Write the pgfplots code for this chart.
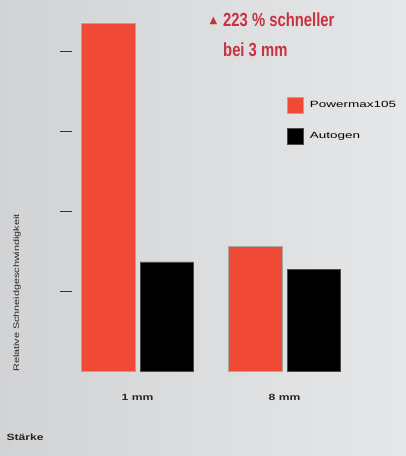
\documentclass[border=0pt]{standalone}
\usepackage{fontspec}
\usepackage{pgfplots}
\pgfplotsset{compat=1.18}
\setmainfont{Liberation Sans}
\newfontfamily\wide[FakeStretch=1.35]{Liberation Sans}
\newfontfamily\wider[FakeStretch=1.5]{Liberation Sans}
\newfontfamily\cond[FakeStretch=0.78]{Liberation Sans}
\newfontfamily\sym{DejaVu Sans}
\definecolor{barred}{HTML}{F04A36}
\definecolor{annot}{HTML}{C8323F}
\definecolor{bgl}{HTML}{D2D3D5}
\definecolor{bgr}{HTML}{E6E7E8}
\begin{document}
\begin{tikzpicture}[x=1pt,y=1pt]
\shade[left color=bgl,right color=bgr] (0,0) rectangle (406,456);
\begin{axis}[
  at={(66pt,84.5pt)}, anchor=south west,
  scale only axis, width=300pt, height=360pt,
  xmin=0, xmax=300, ymin=0, ymax=4.5,
  axis lines*=left,
  axis line style={draw=none},
  xtick=\empty,
  ytick={1,2,3,4}, yticklabels={},
  tick align=center,
  major tick length=11.7pt,
  every tick/.style={draw=black!80, line width=1.6pt},
  clip=false,
  legend image code/.code={\fill[#1] (0pt,-8pt) rectangle (16pt,8pt);},
  legend style={at={(0.737,0.7625)}, anchor=north west, draw=none, fill=none,
    font=\wider\fontsize{9}{10}\selectfont, row sep=14pt, inner sep=0pt,
    cells={anchor=west}, /tikz/every odd column/.append style={column sep=0pt}},
]
\addplot[ybar, bar width=53.6pt, bar shift=-29.3pt, fill=barred, draw=gray!70, line width=0.6pt,
  legend image code/.code={\filldraw[fill=barred,draw=gray!70,line width=0.6pt] (0pt,-8pt) rectangle (16pt,8pt);}]
  coordinates {(71.5,4.35) (218.5,1.56)};
\addlegendentry{\hspace{4pt}Powermax105}
\addplot[ybar, bar width=53.6pt, bar shift=29.3pt, fill=black, draw=black!70, line width=0.6pt,
  legend image code/.code={\filldraw[fill=black,draw=black!70,line width=0.6pt] (0pt,-8pt) rectangle (16pt,8pt);}]
  coordinates {(71.5,1.37) (218.5,1.28)};
\addlegendentry{\hspace{4pt}Autogen}
\node[font=\wide\bfseries\fontsize{9}{10}\selectfont, text=black!85] at (axis cs:71.5,-0.33) {1 mm};
\node[font=\wide\bfseries\fontsize{9}{10}\selectfont, text=black!85] at (axis cs:218.5,-0.33) {8 mm};
\end{axis}
\node[font=\wide\bfseries\fontsize{9}{10}\selectfont, text=black!85, anchor=west] at (3,19) {Stärke};
\node[font=\wide\fontsize{8}{9}\selectfont, text=black!85, rotate=90] at (17,163) {Relative Schneidgeschwindigkeit};
\node[font=\sym\fontsize{10}{11}\selectfont, text=annot] at (213.5,435.5) {▲};
\node[font=\cond\bfseries\fontsize{19}{22}\selectfont, text=annot, anchor=west, inner sep=0pt] at (223,436) {223 \% schneller};
\node[font=\cond\bfseries\fontsize{19}{22}\selectfont, text=annot, anchor=west, inner sep=0pt] at (223,406) {bei 3 mm};
\pgfresetboundingbox
\useasboundingbox (0,0) rectangle (406,456);
\end{tikzpicture}
\end{document}
